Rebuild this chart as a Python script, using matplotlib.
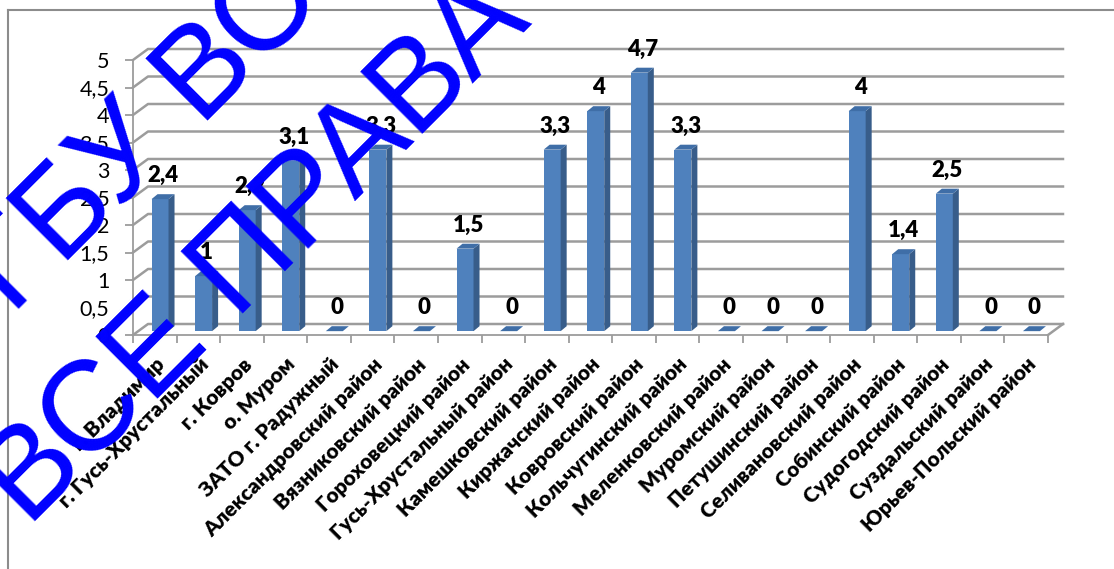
import numpy as np
import matplotlib
matplotlib.use("Agg")
import matplotlib.pyplot as plt
from matplotlib.patches import Polygon, Rectangle
from matplotlib.lines import Line2D

plt.rcParams['font.family'] = ['Lato', 'DejaVu Sans']

# ----- data -----
districts = ['г. Владимир', 'г. Гусь-Хрустальный', 'г. Ковров', 'о. Муром',
             'ЗАТО г. Радужный', 'Александровский район', 'Вязниковский район',
             'Гороховецкий район', 'Гусь-Хрустальный район', 'Камешковский район',
             'Киржачский район', 'Ковровский район', 'Кольчугинский район',
             'Меленковский район', 'Муромский район', 'Петушинский район',
             'Селивановский район', 'Собинский район', 'Судогодский район',
             'Суздальский район', 'Юрьев-Польский район']
values = [2.4, 1.0, 2.2, 3.1, 0, 3.3, 0, 1.5, 0, 3.3, 4.0, 4.7, 3.3,
          0, 0, 0, 4.0, 1.4, 2.5, 0, 0]
yticks = [0, 0.5, 1, 1.5, 2, 2.5, 3, 3.5, 4, 4.5, 5]

W, H = 1114, 569
fig = plt.figure(figsize=(W/100, H/100), dpi=100)
ax = fig.add_axes([133/W, 234/H, 915/W, 275/H])
n = len(districts)
ax.set_xlim(-0.5, n - 0.5)
ax.set_ylim(0, 5)
ax.patch.set_visible(False)

# pseudo-3d offsets (data units)
dx, dy = 0.344, 0.2          # wall depth
fx, fy = 0.12, 0.07          # bar front shift into the depth
bw, bdx, bdy = 0.39, 0.138, 0.09

grid_c = '#9c9c9c'
# back wall + side wall grid
for v in yticks:
    ax.plot([-0.5, -0.5 + dx, n - 0.5 + dx], [v, v + dy, v + dy],
            color=grid_c, lw=1.8, clip_on=False, zorder=1)
ax.plot([n - 0.5, n - 0.5 + dx], [0, dy], color=grid_c, lw=1.8,
        clip_on=False, zorder=1)

front_c, side_c, top_c = '#4F81BD', '#385D8A', '#3F6EA7'
for i, v in enumerate(values):
    x0 = i - bw / 2 + fx
    y0 = fy
    if v > 0:
        ax.add_patch(Rectangle((x0, y0), bw, v, facecolor=front_c,
                               edgecolor='none', clip_on=False, zorder=3))
        ax.add_patch(Polygon([(x0 + bw, y0), (x0 + bw + bdx, y0 + bdy),
                              (x0 + bw + bdx, y0 + v + bdy), (x0 + bw, y0 + v)],
                             facecolor=side_c, edgecolor='none',
                             clip_on=False, zorder=3))
    ax.add_patch(Polygon([(x0, y0 + v), (x0 + bw, y0 + v),
                          (x0 + bw + bdx, y0 + v + bdy), (x0 + bdx, y0 + v + bdy)],
                         facecolor=top_c, edgecolor='none',
                         clip_on=False, zorder=3))
    lbl = ('%g' % v).replace('.', ',')
    ax.text(i + fx + bdx / 2, y0 + v + 0.43, lbl, ha='center', va='center',
            fontsize=16, fontweight='heavy', color='black', zorder=4,
            clip_on=False)

# axes
for s in ['top', 'right']:
    ax.spines[s].set_visible(False)
for s in ['left', 'bottom']:
    ax.spines[s].set_color(grid_c)
    ax.spines[s].set_linewidth(1.3)
ax.set_yticks(yticks)
ax.set_yticklabels([('%g' % t).replace('.', ',') for t in yticks], fontsize=15.5)
ax.tick_params(axis='y', length=6, width=1.3, color=grid_c, pad=11)
ax.set_xticks(range(n))
ax.set_xticklabels(districts, fontsize=15, fontweight='heavy')
ax.set_xticks(np.arange(-0.5, n, 1), minor=True)
ax.tick_params(axis='x', which='major', length=0, pad=14)
ax.tick_params(axis='x', which='minor', length=6, width=1.3, color=grid_c)
plt.setp(ax.get_xticklabels(), rotation=45, ha='right', va='top',
         rotation_mode='anchor')

# chart border
fig.add_artist(Line2D([8/W, 1], [1 - 10/H, 1 - 10/H], color='#8c8c8c', lw=1.5))
fig.add_artist(Line2D([8/W, 8/W], [0, 1 - 10/H], color='#8c8c8c', lw=1.5))

# watermark
fig.text(12/W, 1 - 316/H, 'ГБУ ВО', fontsize=92, color='#0000ff',
         family='Liberation Sans', rotation=45, rotation_mode='anchor',
         ha='left', va='baseline', zorder=10)
fig.text(28/W, 1 - 528/H, 'ВСЕ ПРАВА', fontsize=92, color='#0000ff',
         family='Liberation Sans', rotation=45, rotation_mode='anchor',
         ha='left', va='baseline', zorder=10)

fig.savefig('out.png', dpi=100)
